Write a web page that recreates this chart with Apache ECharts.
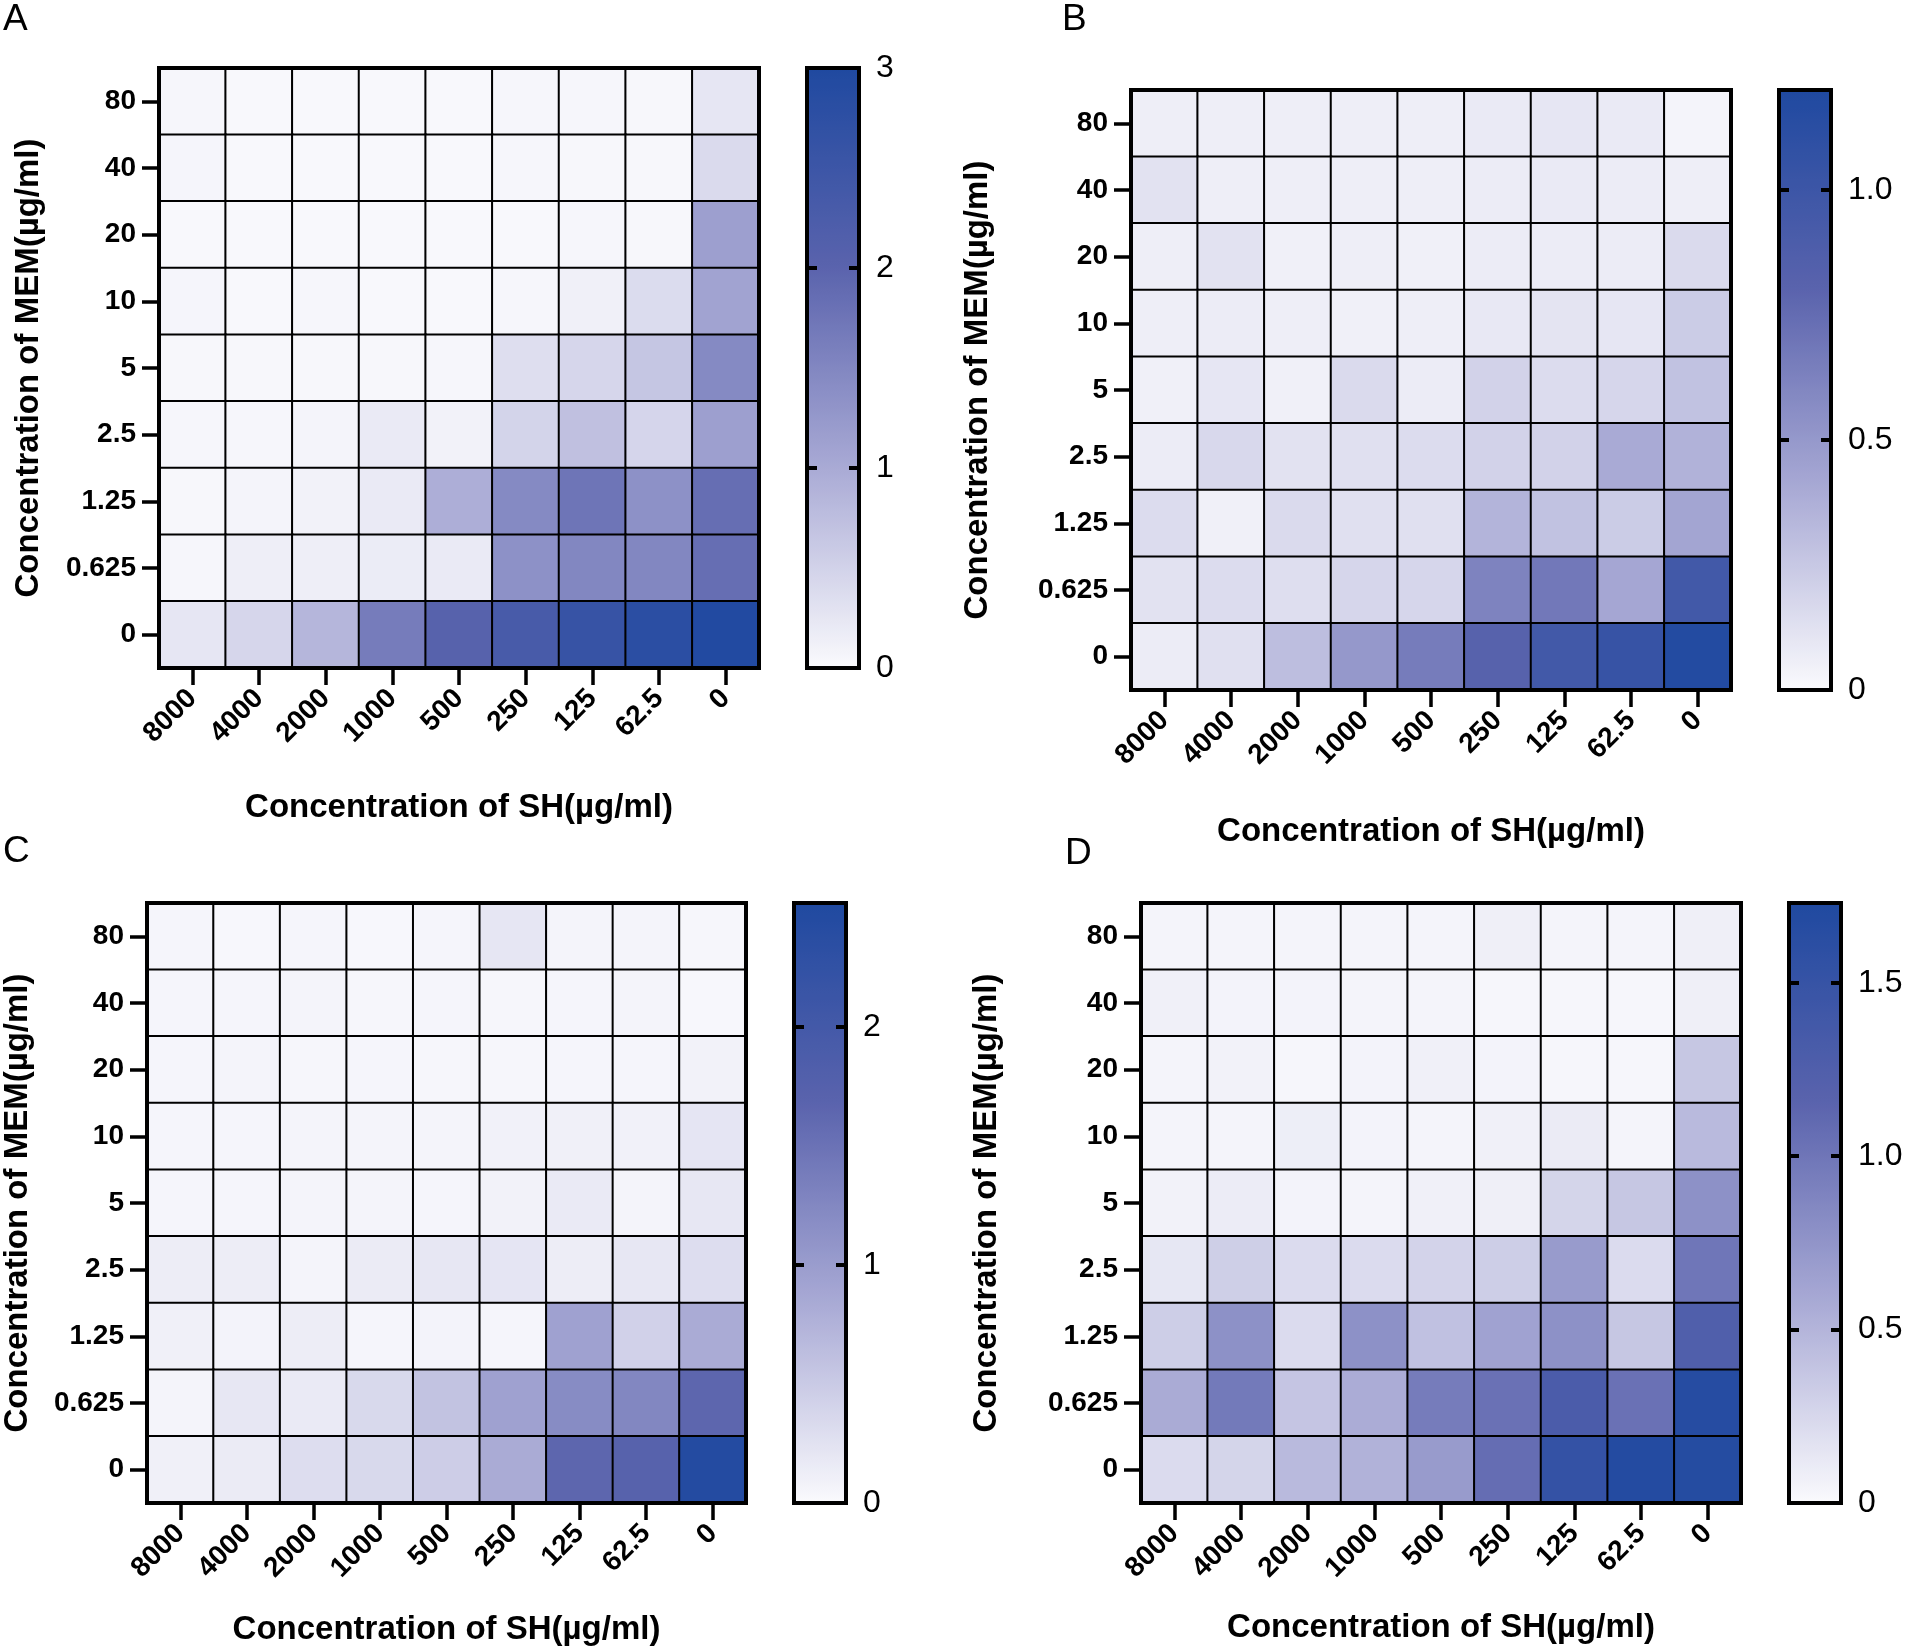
<!DOCTYPE html>
<html>
<head>
    <meta charset="utf-8">
    <title>SH x MEM checkerboard heatmaps</title>
    <script src="https://cdn.jsdelivr.net/npm/echarts@6/dist/echarts.min.js"></script>
</head>
<body style="margin:0;background:#fff;">
    <div id="main" style="width:1907px;height:1650px;"></div>
<script type="text/javascript">
    // x categories (SH, ug/ml) and y categories (MEM, ug/ml, bottom -> top)
    var shLabels = ['8000', '4000', '2000', '1000', '500', '250', '125', '62.5', '0'];
    var memLabels = ['0', '0.625', '1.25', '2.5', '5', '10', '20', '40', '80'];

    // cell values, rows listed top (MEM 80) -> bottom (MEM 0), columns as shLabels
    var panelA = [
        [0.05, 0.03, 0.03, 0.03, 0.03, 0.05, 0.05, 0.04, 0.25],
        [0.06, 0.03, 0.03, 0.03, 0.03, 0.05, 0.04, 0.04, 0.40],
        [0.03, 0.03, 0.03, 0.03, 0.03, 0.03, 0.05, 0.04, 1.15],
        [0.06, 0.03, 0.05, 0.03, 0.03, 0.05, 0.12, 0.38, 1.10],
        [0.04, 0.04, 0.04, 0.04, 0.05, 0.35, 0.45, 0.65, 1.45],
        [0.05, 0.05, 0.07, 0.20, 0.10, 0.48, 0.72, 0.46, 1.15],
        [0.04, 0.08, 0.10, 0.20, 0.95, 1.45, 1.75, 1.35, 1.85],
        [0.05, 0.15, 0.15, 0.18, 0.20, 1.35, 1.50, 1.50, 1.85],
        [0.25, 0.45, 0.85, 1.65, 2.05, 2.30, 2.60, 2.80, 2.95]
    ];
    var panelB = [
        [0.06, 0.06, 0.06, 0.06, 0.06, 0.08, 0.10, 0.08, 0.03],
        [0.12, 0.06, 0.06, 0.06, 0.06, 0.07, 0.08, 0.07, 0.06],
        [0.06, 0.12, 0.05, 0.06, 0.05, 0.07, 0.07, 0.07, 0.16],
        [0.06, 0.07, 0.06, 0.05, 0.06, 0.09, 0.11, 0.10, 0.23],
        [0.05, 0.10, 0.05, 0.16, 0.07, 0.20, 0.15, 0.18, 0.28],
        [0.07, 0.17, 0.12, 0.13, 0.15, 0.20, 0.20, 0.40, 0.36],
        [0.15, 0.05, 0.16, 0.13, 0.13, 0.35, 0.28, 0.23, 0.43],
        [0.12, 0.15, 0.14, 0.18, 0.18, 0.62, 0.68, 0.42, 0.96],
        [0.07, 0.13, 0.30, 0.50, 0.66, 0.82, 0.96, 1.04, 1.17]
    ];
    var panelC = [
        [0.05, 0.03, 0.05, 0.03, 0.05, 0.21, 0.06, 0.06, 0.04],
        [0.05, 0.05, 0.06, 0.04, 0.05, 0.04, 0.05, 0.06, 0.03],
        [0.05, 0.06, 0.04, 0.05, 0.04, 0.04, 0.05, 0.05, 0.08],
        [0.05, 0.05, 0.06, 0.06, 0.06, 0.09, 0.10, 0.09, 0.22],
        [0.05, 0.05, 0.06, 0.06, 0.05, 0.08, 0.17, 0.06, 0.20],
        [0.14, 0.14, 0.06, 0.16, 0.20, 0.22, 0.14, 0.20, 0.30],
        [0.10, 0.07, 0.14, 0.05, 0.07, 0.05, 0.95, 0.43, 0.83],
        [0.06, 0.20, 0.17, 0.35, 0.58, 0.95, 1.20, 1.25, 1.65],
        [0.10, 0.16, 0.30, 0.35, 0.47, 0.83, 1.65, 1.72, 2.45]
    ];
    var panelD = [
        [0.04, 0.04, 0.04, 0.04, 0.04, 0.08, 0.04, 0.04, 0.08],
        [0.07, 0.05, 0.05, 0.04, 0.04, 0.03, 0.03, 0.03, 0.08],
        [0.04, 0.06, 0.03, 0.05, 0.07, 0.05, 0.03, 0.03, 0.37],
        [0.04, 0.04, 0.09, 0.05, 0.04, 0.07, 0.11, 0.04, 0.46],
        [0.06, 0.10, 0.05, 0.04, 0.07, 0.08, 0.27, 0.37, 0.78],
        [0.14, 0.31, 0.22, 0.22, 0.28, 0.32, 0.70, 0.22, 1.00],
        [0.32, 0.78, 0.22, 0.78, 0.41, 0.64, 0.78, 0.37, 1.25],
        [0.57, 0.97, 0.38, 0.56, 0.95, 1.04, 1.30, 1.04, 1.66],
        [0.22, 0.27, 0.46, 0.52, 0.70, 1.07, 1.52, 1.68, 1.67]
    ];

    // colour scale ranges and tick steps per panel
    var panelNames = ['A', 'B', 'C', 'D'];
    var scaleMax = [3, 1.2, 2.52, 1.73];
    var scaleStep = [1, 0.5, 1, 0.5];

    var panels = [panelA, panelB, panelC, panelD];
    var gradient = ['#fafafd', '#a9aad5', '#5a63ad', '#1f49a0'];
    var font = 'Liberation Sans, Arial, sans-serif';

    // layout (px)
    var boxes = [
        {left: 159,  top: 68,  nameX: 123, nameY: 114, letter: [3, 1]},
        {left: 1131, top: 90,  nameX: 125, nameY: 137, letter: [1062, 1]},
        {left: 146,  top: 903, nameX: 110, nameY: 113, letter: [3, 833]},
        {left: 1141, top: 903, nameX: 108, nameY: 138, letter: [1065, 835]}
    ];
    var size = 600;

    var grid = [], xAxis = [], yAxis = [], series = [], visualMap = [], title = [];

    boxes.forEach(function (b, i) {
        grid.push({left: b.left, top: b.top, width: size, height: size,
            show: true, borderColor: '#000', borderWidth: 4, z: 10});

        xAxis.push({
            type: 'category', gridIndex: i, data: shLabels, z: 10,
            name: 'Concentration of SH(µg/ml)', nameLocation: 'middle', nameGap: b.nameX,
            nameTextStyle: {fontFamily: font, fontWeight: 'bold', fontSize: 33, color: '#000'},
            axisLine: {show: true, lineStyle: {color: '#000', width: 4}},
            axisTick: {show: true, alignWithLabel: true, length: 17, lineStyle: {width: 3.5, color: '#000'}},
            axisLabel: {rotate: 45, margin: 26, fontFamily: font, fontWeight: 'bold', fontSize: 28, color: '#000'},
            splitLine: {show: false}
        });
        yAxis.push({
            type: 'category', gridIndex: i, data: memLabels, z: 10,
            name: 'Concentration of MEM(µg/ml)', nameLocation: 'middle', nameGap: b.nameY,
            nameTextStyle: {fontFamily: font, fontWeight: 'bold', fontSize: 33, color: '#000'},
            axisLine: {show: true, lineStyle: {color: '#000', width: 4}},
            axisTick: {show: true, alignWithLabel: true, length: 17, lineStyle: {width: 3.5, color: '#000'}},
            axisLabel: {margin: 23, fontFamily: font, fontWeight: 'bold', fontSize: 28, color: '#000'},
            splitLine: {show: false}
        });

        var data = [];
        panels[i].forEach(function (row, r) {
            row.forEach(function (v, c) {
                data.push([c, memLabels.length - 1 - r, v]);
            });
        });
        series.push({
            type: 'heatmap', xAxisIndex: i, yAxisIndex: i, data: data,
            itemStyle: {borderColor: '#000', borderWidth: 2},
            emphasis: {disabled: true}
        });

        visualMap.push({
            type: 'continuous', seriesIndex: i, dimension: 2,
            min: 0, max: scaleMax[i], calculable: false, hoverLink: false,
            itemWidth: 52, itemHeight: size, padding: 0, z: 2,
            left: b.left + size + 48, top: b.top,
            inRange: {color: gradient}
        });

        title.push({
            text: panelNames[i], left: b.letter[0], top: b.letter[1], padding: 0,
            textStyle: {fontFamily: font, fontWeight: 'normal', fontSize: 37, color: '#000'}
        });
    });

    // colour bar frames with inside ticks on both edges and labels on the right
    boxes.forEach(function (b, i) {
        var g = grid.length;
        grid.push({left: b.left + size + 48, top: b.top, width: 52, height: size,
            show: true, borderColor: '#000', borderWidth: 4, z: 10});
        xAxis.push({type: 'value', gridIndex: g, show: false, min: 0, max: 1});
        var fmt = function (v) {
            if (v === 0) return '0';
            return scaleStep[i] < 1 ? v.toFixed(1) : String(v);
        };
        yAxis.push({
            type: 'value', gridIndex: g, position: 'right', min: 0, max: scaleMax[i],
            interval: scaleStep[i], z: 11,
            axisLine: {show: false, onZero: false}, splitLine: {show: false},
            axisTick: {show: true, inside: true, length: 10, lineStyle: {width: 4, color: '#000'}},
            axisLabel: {margin: 17, showMaxLabel: scaleMax[i] === 3, formatter: fmt,
                fontFamily: font, fontSize: 32, color: '#000'}
        });
        yAxis.push({
            type: 'value', gridIndex: g, position: 'left', min: 0, max: scaleMax[i],
            interval: scaleStep[i], z: 11,
            axisLine: {show: false, onZero: false}, splitLine: {show: false}, axisLabel: {show: false},
            axisTick: {show: true, inside: true, length: 10, lineStyle: {width: 4, color: '#000'}}
        });
    });

    var myChart = echarts.init(document.getElementById('main'));
    myChart.setOption({
        animation: false,
        backgroundColor: '#fff',
        title: title,
        grid: grid,
        xAxis: xAxis,
        yAxis: yAxis,
        visualMap: visualMap,
        series: series
    });
</script>
</body>
</html>
